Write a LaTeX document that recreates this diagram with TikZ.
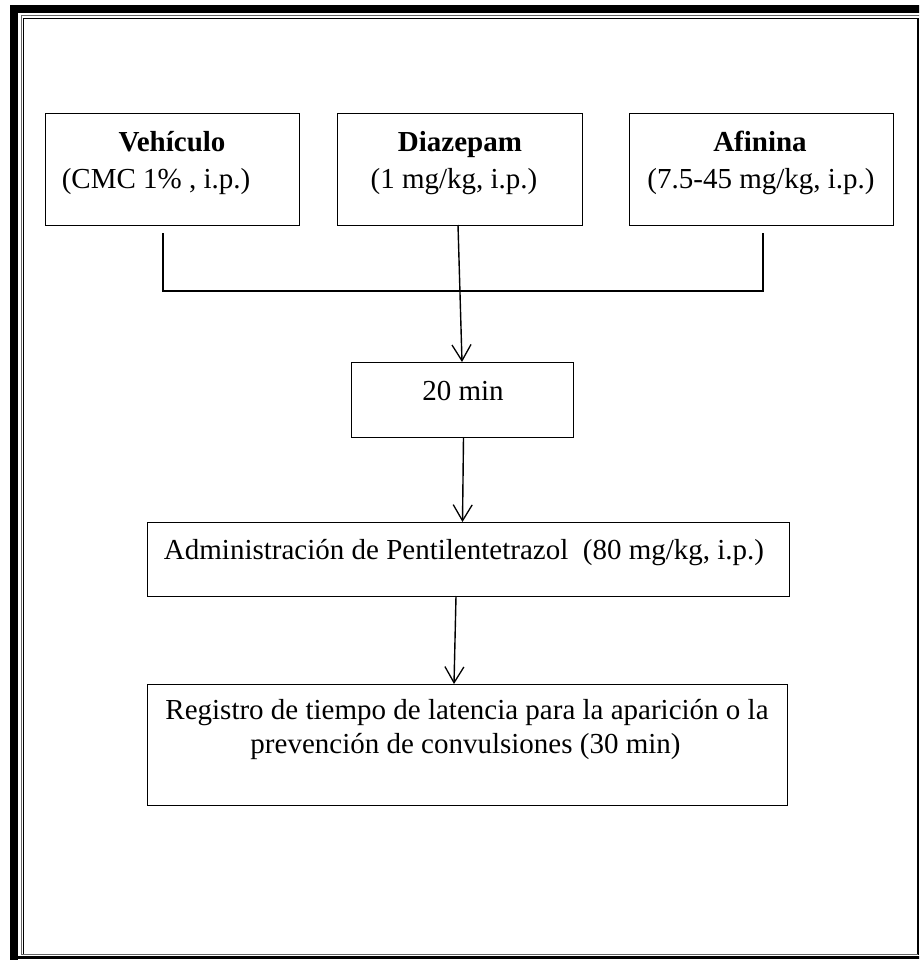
\documentclass[tikz,border=0pt]{standalone}
\usepackage{fontspec}
\setmainfont{Liberation Serif}
\usetikzlibrary{arrows.meta}
\begin{document}
\begin{tikzpicture}[x=1pt,y=-1pt,
  boxstyle/.style={draw=black,line width=1.4pt,inner sep=0pt},
  txt/.style={anchor=base,inner sep=0pt,font=\fontsize{29}{35}\selectfont},
  btxt/.style={txt,font=\fontsize{29}{35}\selectfont\bfseries},
  conn/.style={draw=black,line width=1.4pt},
  arr/.style={conn,-{Straight Barb[length=16pt,width=19pt,line width=1.3pt]}}]
\useasboundingbox (0,0) rectangle (919,960);
\begin{scope}
\clip (0,0) rectangle (919,960);
% page border
\draw[line width=8pt] (14,970) -- (14,9) -- (930,9);
\draw[line width=3.5pt] (10,957.5) -- (930,957.5);
\draw[line width=1pt,black!60] (21,954) -- (21,16) -- (930,16);
\draw[line width=1.2pt] (23.5,955) -- (23.5,18.5) -- (918,18.5) -- (918,955);
\draw[line width=1pt,black!60] (21,954.5) -- (918,954.5);
\end{scope}
% boxes
\node[boxstyle,anchor=north west,minimum width=254pt,minimum height=112pt] (veh) at (45,113) {};
\node[boxstyle,anchor=north west,minimum width=245pt,minimum height=112pt] (dia) at (337,113) {};
\node[boxstyle,anchor=north west,minimum width=264pt,minimum height=112pt] (afi) at (629,113) {};
\node[boxstyle,anchor=north west,minimum width=222pt,minimum height=75pt] (t20) at (351,362) {};
\node[boxstyle,anchor=north west,minimum width=642pt,minimum height=74pt] (adm) at (147,522) {};
\node[boxstyle,anchor=north west,minimum width=640pt,minimum height=121pt] (reg) at (147,684) {};
% texts
\node[btxt] (vehA) at (172,152) {Vehículo};
\node[txt] (vehB) at (156,188) {(CMC 1\% , i.p.)};
\node[btxt] (diaA) at (460,152) {Diazepam};
\node[txt] (diaB) at (454,188) {(1 mg/kg, i.p.)};
\node[btxt] (afiA) at (760,152) {Afinina};
\node[txt] (afiB) at (761,188) {(7.5-45 mg/kg, i.p.)};
\node[txt] (t20A) at (463,400) {20 min};
\node[txt] (admA) at (464,559) {Administración de Pentilentetrazol\ \ (80 mg/kg, i.p.)};
\node[txt] (regA) at (467,719) {Registro de tiempo de latencia para la aparición o la};
\node[txt] (regB) at (465.5,753) {prevención de convulsiones (30 min)};
% connector coordinates
\coordinate (vb) at (163,233);
\coordinate (jl) at (163,291);
\coordinate (jr) at (763,291);
\coordinate (ab) at (763,233);
\coordinate (d1) at (458,225);
\coordinate (d2) at (462,362);
\coordinate (e1) at (463.5,437);
\coordinate (e2) at (462.5,522);
\coordinate (f1) at (456,596);
\coordinate (f2) at (454,684);
% connectors
\draw[conn] (vb) -- (jl) -- (jr) -- (ab);
\draw[arr] (d1) -- (d2);
\draw[arr] (e1) -- (e2);
\draw[arr] (f1) -- (f2);
\end{tikzpicture}
\end{document}
